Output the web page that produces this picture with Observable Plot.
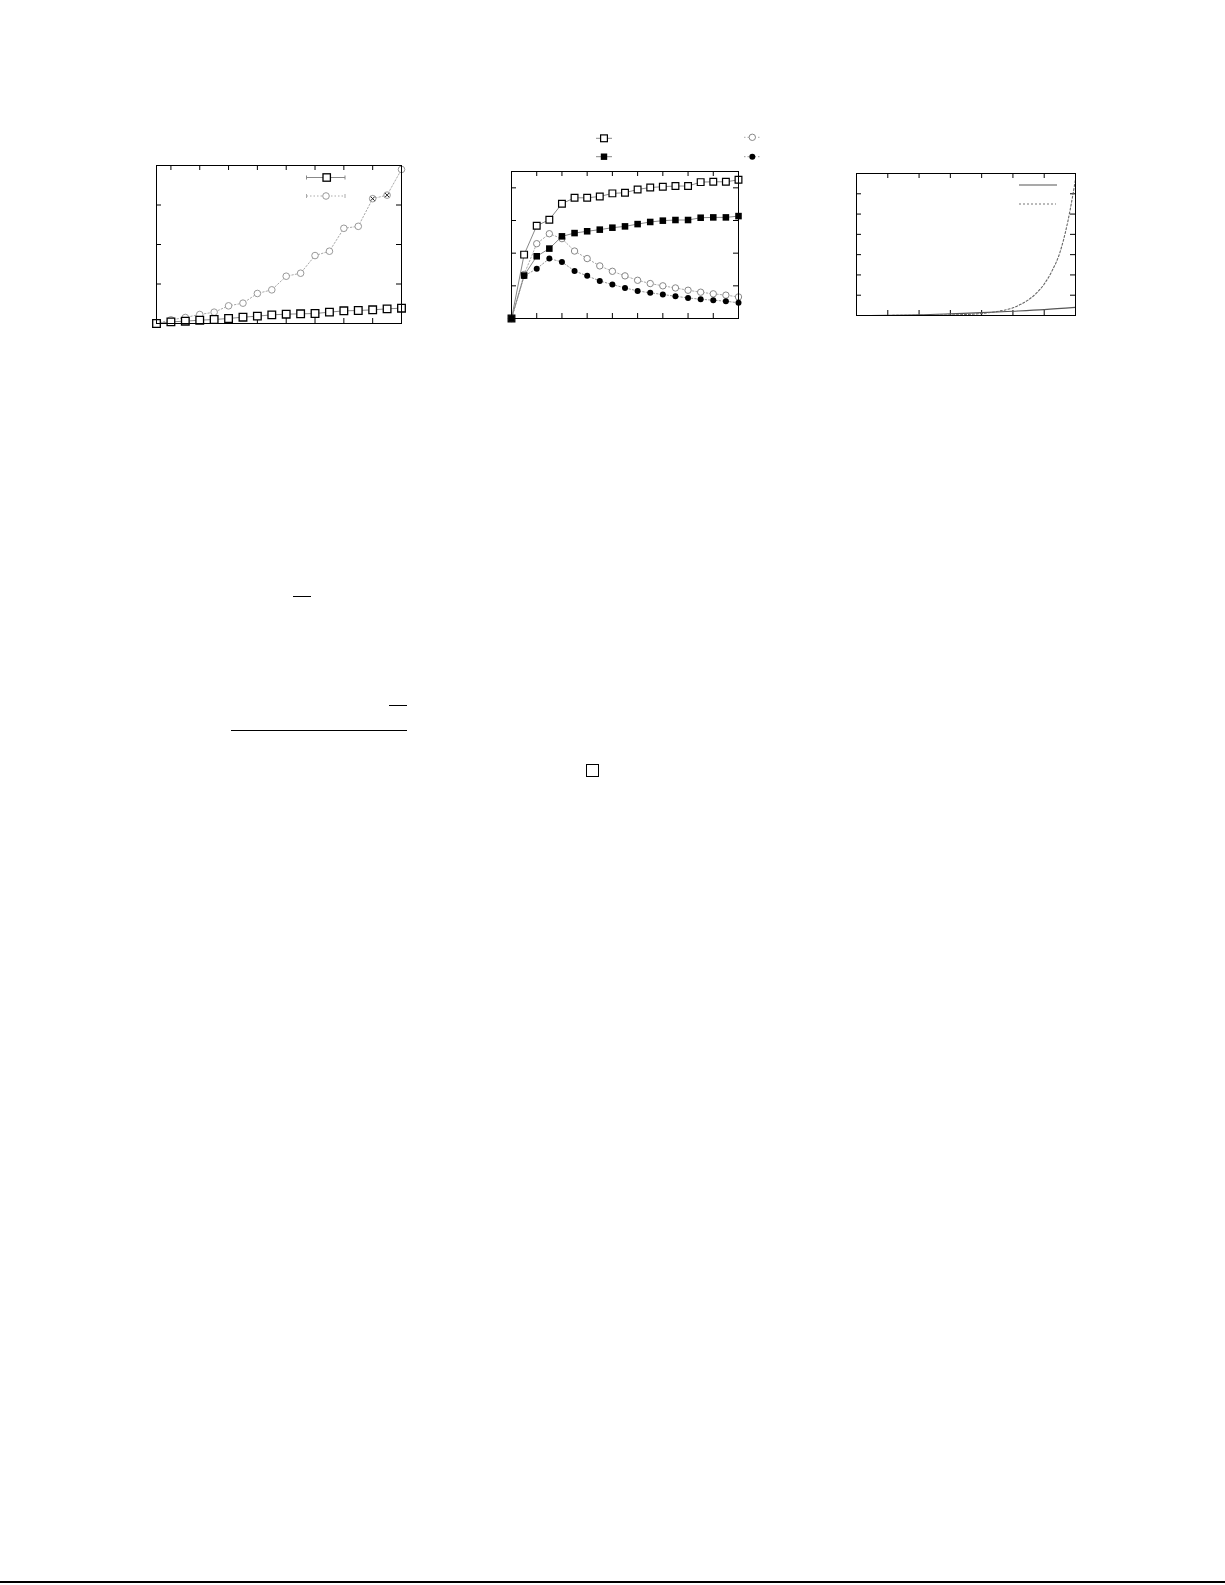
<!DOCTYPE html>
<html>
<head>
<meta charset="utf-8">
<script src="https://cdn.jsdelivr.net/npm/d3@7"></script>
<script src="https://cdn.jsdelivr.net/npm/@observablehq/plot@0.6"></script>
<style>
html, body { margin: 0; padding: 0; background: #fff; }
#page { position: relative; width: 1225px; height: 1585px; overflow: hidden; background: #fff; font-family: "DejaVu Serif", serif; }
.chart { position: absolute; }
.rule { position: absolute; background: #000; }
#qed { position: absolute; border: 1px solid #000; box-sizing: border-box; }
#legends { position: absolute; left: 0; top: 0; pointer-events: none; }
</style>
</head>
<body>
<div id="page">
  <div class="chart" id="c1" style="left:146px;top:125px"></div>
  <div class="chart" id="c2" style="left:501px;top:125px"></div>
  <div class="chart" id="c3" style="left:846px;top:125px"></div>

  <svg id="legends" width="1225" height="400">
    <!-- chart 1 legend -->
    <g stroke="#888" stroke-width="1">
      <line x1="306.5" y1="177.5" x2="345" y2="177.5"/>
      <line x1="306.5" y1="175.5" x2="306.5" y2="179.5"/>
      <line x1="345" y1="175.5" x2="345" y2="179.5"/>
    </g>
    <rect x="323" y="173.8" width="7.4" height="7.4" fill="#fff" stroke="#000" stroke-width="1.3"/>
    <g stroke="#aaa" stroke-width="1">
      <line x1="306.5" y1="196" x2="345" y2="196" stroke-dasharray="1.5,2"/>
      <line x1="306.5" y1="194" x2="306.5" y2="198"/>
      <line x1="345" y1="194" x2="345" y2="198"/>
    </g>
    <circle cx="326" cy="196" r="3.3" fill="#fff" stroke="#999" stroke-width="1"/>
    <!-- chart 2 legend -->
    <line x1="596" y1="138.3" x2="612" y2="138.3" stroke="#888"/>
    <rect x="600.6" y="134.9" width="6.8" height="6.8" fill="#fff" stroke="#000" stroke-width="1.2"/>
    <line x1="596" y1="156.7" x2="612" y2="156.7" stroke="#888"/>
    <rect x="600.8" y="153.5" width="6.4" height="6.4" fill="#000"/>
    <line x1="744" y1="137.3" x2="760" y2="137.3" stroke="#aaa" stroke-dasharray="1.5,2"/>
    <circle cx="752.3" cy="137.3" r="3.2" fill="#fff" stroke="#888"/>
    <line x1="744" y1="156.7" x2="760" y2="156.7" stroke="#999" stroke-dasharray="1.5,2"/>
    <circle cx="752.3" cy="156.7" r="3" fill="#000"/>
    <!-- chart 3 legend -->
    <line x1="1019" y1="185" x2="1057" y2="185" stroke="#555" stroke-width="1.2"/>
    <line x1="1019" y1="204" x2="1056" y2="204" stroke="#777" stroke-width="1.1" stroke-dasharray="2,2"/>
  </svg>

  <div class="rule" style="left:293px;top:595.5px;width:18px;height:1.2px"></div>
  <div class="rule" style="left:389px;top:704.8px;width:18px;height:1.2px"></div>
  <div class="rule" style="left:231px;top:729.8px;width:176px;height:1.2px"></div>
  <div id="qed" style="left:586px;top:764px;width:13px;height:13px"></div>
  <div class="rule" style="left:0px;top:1581px;width:1225px;height:1.6px"></div>
</div>

<script>
// ---------- Chart 1 data ----------
const p1X       = [1, 2, 3, 4, 5, 6, 7, 8, 9, 10, 11, 12, 13, 14, 15, 16, 17, 18];
const p1Squares = [0, 0.42, 0.59, 0.84, 1.01, 1.27, 1.60, 1.86, 2.19, 2.36, 2.45, 2.53, 2.87, 3.21, 3.29, 3.46, 3.71, 3.88];
const p1Circles = [0, 0.93, 1.52, 2.28, 2.87, 4.47, 5.15, 7.6, 8.52, 11.97, 12.73, 17.2, 18.3, 24.1, 24.6, 31.6, 32.5, 39.0];
const p1Crossed = [16, 17];
const p1XTicks  = [2, 4, 6, 8, 10, 12, 14, 16];
const p1YTicks  = [10, 20, 30];

// ---------- Chart 2 data ----------
const p2X          = [0, 1, 2, 3, 4, 5, 6, 7, 8, 9, 10, 11, 12, 13, 14, 15, 16, 17, 18];
const p2OpenSq     = [0, 0.391, 0.568, 0.605, 0.703, 0.739, 0.739, 0.747, 0.766, 0.770, 0.790, 0.802, 0.807, 0.811, 0.811, 0.835, 0.837, 0.837, 0.849];
const p2FilledSq   = [0, 0.263, 0.381, 0.428, 0.503, 0.523, 0.534, 0.544, 0.556, 0.564, 0.578, 0.591, 0.599, 0.603, 0.603, 0.617, 0.619, 0.619, 0.627];
const p2OpenCirc   = [0, 0.27, 0.458, 0.519, 0.489, 0.413, 0.367, 0.322, 0.289, 0.261, 0.234, 0.214, 0.200, 0.187, 0.173, 0.161, 0.151, 0.143, 0.132];
const p2FilledCirc = [0, 0.26, 0.305, 0.367, 0.346, 0.291, 0.261, 0.230, 0.208, 0.187, 0.169, 0.157, 0.147, 0.136, 0.126, 0.118, 0.112, 0.106, 0.096];
const p2XTicks     = [2, 4, 6, 8, 10, 12, 14, 16];
const p2YTicks     = [0.2, 0.4, 0.6, 0.8];

// ---------- Chart 3 data ----------
const p3XDashed = [0, 1, 2, 3, 3.5, 4, 4.5, 5, 5.25, 5.5, 5.75, 6, 6.25, 6.5, 6.75, 7];
const p3Dashed  = [0, 0.003, 0.01, 0.025, 0.05, 0.1, 0.2, 0.38, 0.55, 0.78, 1.1, 1.55, 2.2, 3.1, 4.6, 6.7];
const p3XSolid  = [0, 1, 2, 3, 4, 5, 6, 7];
const p3Solid   = [0, 0.01, 0.03, 0.08, 0.14, 0.21, 0.29, 0.4];
const p3Ticks   = [1, 2, 3, 4, 5, 6];

// inward ticks on all four sides of the frame
function frameTicks(xt, yt, fw, fh, len = 5) {
  return [
    Plot.tickX(xt, {x: d => d, insetTop: fh - len, stroke: "#000"}),
    Plot.tickX(xt, {x: d => d, insetBottom: fh - len, stroke: "#000"}),
    Plot.tickY(yt, {y: d => d, insetRight: fw - len, stroke: "#000"}),
    Plot.tickY(yt, {y: d => d, insetLeft: fw - len, stroke: "#000"})
  ];
}

// ---------- Chart 1 ----------
const t1 = p1X.map((x, i) => ({x, sq: p1Squares[i], ci: p1Circles[i]}));
const chart1 = Plot.plot({
  width: 265, height: 208,
  marginLeft: 10, marginRight: 10, marginTop: 40, marginBottom: 10,
  x: {domain: [1, 18], axis: null},
  y: {domain: [0, 40], axis: null},
  marks: [
    ...frameTicks(p1XTicks, p1YTicks, 245, 158),
    Plot.line(t1, {x: "x", y: "ci", stroke: "#aaa", strokeWidth: 1, strokeDasharray: "1.5,2"}),
    Plot.line(t1, {x: "x", y: "sq", stroke: "#888", strokeWidth: 1}),
    Plot.dot(t1, {x: "x", y: "ci", r: 3.3, stroke: "#999", fill: "white", strokeWidth: 1}),
    Plot.dot(t1.filter(d => p1Crossed.includes(d.x)), {x: "x", y: "ci", symbol: "times", r: 2, stroke: "#222", strokeWidth: 1}),
    Plot.dot(t1, {x: "x", y: "sq", symbol: "square", r: 4.3, stroke: "#000", strokeWidth: 1.3, fill: "white"}),
    Plot.frame({stroke: "#000"})
  ]
});
document.getElementById("c1").appendChild(chart1);

// ---------- Chart 2 ----------
const t2 = p2X.map((x, i) => ({x, os: p2OpenSq[i], fs: p2FilledSq[i], oc: p2OpenCirc[i], fc: p2FilledCirc[i]}));
const chart2 = Plot.plot({
  width: 247, height: 203,
  marginLeft: 10, marginRight: 10, marginTop: 46, marginBottom: 10,
  x: {domain: [0, 18], axis: null},
  y: {domain: [0, 0.9], axis: null},
  marks: [
    ...frameTicks(p2XTicks, p2YTicks, 227, 147),
    Plot.line(t2, {x: "x", y: "fc", stroke: "#999", strokeWidth: 1, strokeDasharray: "1.5,2"}),
    Plot.line(t2, {x: "x", y: "oc", stroke: "#aaa", strokeWidth: 1, strokeDasharray: "1.5,2"}),
    Plot.line(t2, {x: "x", y: "fs", stroke: "#888", strokeWidth: 1}),
    Plot.line(t2, {x: "x", y: "os", stroke: "#888", strokeWidth: 1}),
    Plot.dot(t2, {x: "x", y: "oc", r: 3.2, stroke: "#888", fill: "white", strokeWidth: 1}),
    Plot.dot(t2, {x: "x", y: "fc", r: 3, fill: "#000", stroke: "none"}),
    Plot.dot(t2, {x: "x", y: "os", symbol: "square", r: 3.8, stroke: "#000", strokeWidth: 1.2, fill: "white"}),
    Plot.dot(t2, {x: "x", y: "fs", symbol: "square", r: 3.7, fill: "#000", stroke: "none"}),
    Plot.frame({stroke: "#000"})
  ]
});
document.getElementById("c2").appendChild(chart2);

// ---------- Chart 3 ----------
const t3d = p3XDashed.map((x, i) => ({x, y: p3Dashed[i]}));
const t3s = p3XSolid.map((x, i) => ({x, y: p3Solid[i]}));
const chart3 = Plot.plot({
  width: 239, height: 200,
  marginLeft: 10, marginRight: 10, marginTop: 48, marginBottom: 10,
  x: {domain: [0, 7], axis: null},
  y: {domain: [0, 7], axis: null},
  marks: [
    ...frameTicks(p3Ticks, p3Ticks, 219, 142),
    Plot.line(t3s, {x: "x", y: "y", stroke: "#555", strokeWidth: 1.1, curve: "monotone-x"}),
    Plot.line(t3d, {x: "x", y: "y", stroke: "#666", strokeWidth: 1.1, strokeDasharray: "2,2", curve: "monotone-x"}),
    Plot.frame({stroke: "#000"})
  ]
});
document.getElementById("c3").appendChild(chart3);
</script>
</body>
</html>
